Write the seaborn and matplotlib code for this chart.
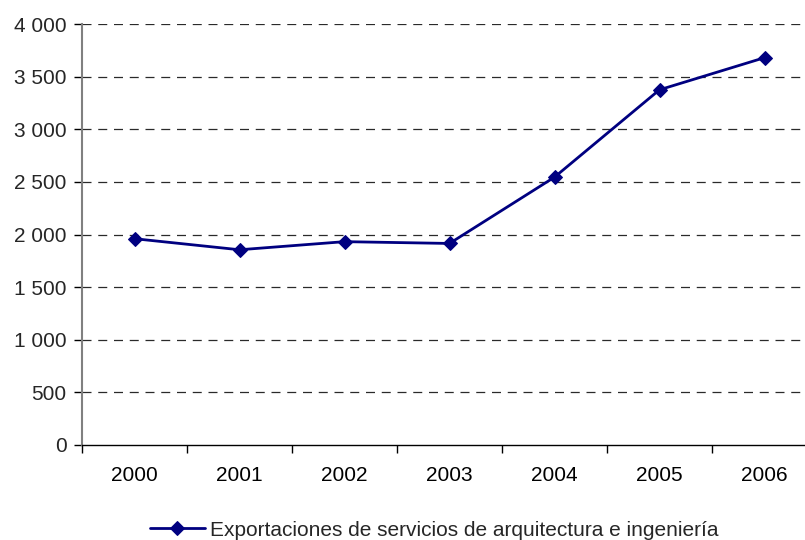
import matplotlib
matplotlib.use("Agg")
import matplotlib.pyplot as plt
import seaborn as sns
import pandas as pd
from matplotlib.ticker import FuncFormatter, FixedLocator

# Data
years = ["2000", "2001", "2002", "2003", "2004", "2005", "2006"]
exports = [1960, 1855, 1932, 1915, 2545, 3375, 3680]
series_name = "Exportaciones de servicios de arquitectura e ingeniería"

df = pd.DataFrame({"year": years, "value": exports})

sns.set_style("white")
plt.rcParams["font.family"] = ["Liberation Sans", "DejaVu Sans"]

fig = plt.figure(figsize=(8.05, 5.4), dpi=100)
ax = fig.add_axes([82 / 805, 1 - 445 / 540, 735 / 805, 421 / 540])

sns.lineplot(data=df, x="year", y="value", ax=ax, color="#000080",
             marker="D", markersize=7.5, linewidth=2,
             markeredgecolor="#000080", label=series_name)

ax.set_ylim(0, 4000)
ax.set_xlim(-0.5, len(years) - 0.5)
ax.set_yticks(range(0, 4001, 500))
ax.yaxis.set_major_formatter(FuncFormatter(lambda v, p: f"{v:,.0f}".replace(",", " ")))

# dashed gridlines except at 0
for v in range(500, 4001, 500):
    ax.axhline(v, color="#2a2a2a", linestyle=(0, (7.2, 5.4)), linewidth=0.9, zorder=0)

# category ticks sit between the labels
ax.xaxis.set_minor_locator(FixedLocator([i - 0.5 for i in range(len(years) + 1)]))
ax.tick_params(axis="x", which="major", bottom=True, length=0, pad=15, labelsize=15, colors="black")
ax.tick_params(axis="x", which="minor", bottom=True, length=6, width=1, direction="out", color="black")
ax.tick_params(axis="y", which="major", left=True, length=6, width=1, direction="out",
               labelsize=15, color="black", pad=5)

ax.set_xlabel("")
ax.set_ylabel("")
for s in ["top", "right"]:
    ax.spines[s].set_visible(False)
ax.spines["left"].set_color("#808080")
ax.spines["left"].set_linewidth(1.5)
ax.spines["bottom"].set_color("#000000")
ax.spines["bottom"].set_linewidth(1.0)

h, l = ax.get_legend_handles_labels()
ax.get_legend().remove()
fig.legend(h, l, loc="center", bbox_to_anchor=(434 / 805, 1 - 530 / 540),
           frameon=False, fontsize=15, handlelength=2.64, handletextpad=0.24,
           borderpad=0, borderaxespad=0)

fig.savefig("out.png", dpi=100)
